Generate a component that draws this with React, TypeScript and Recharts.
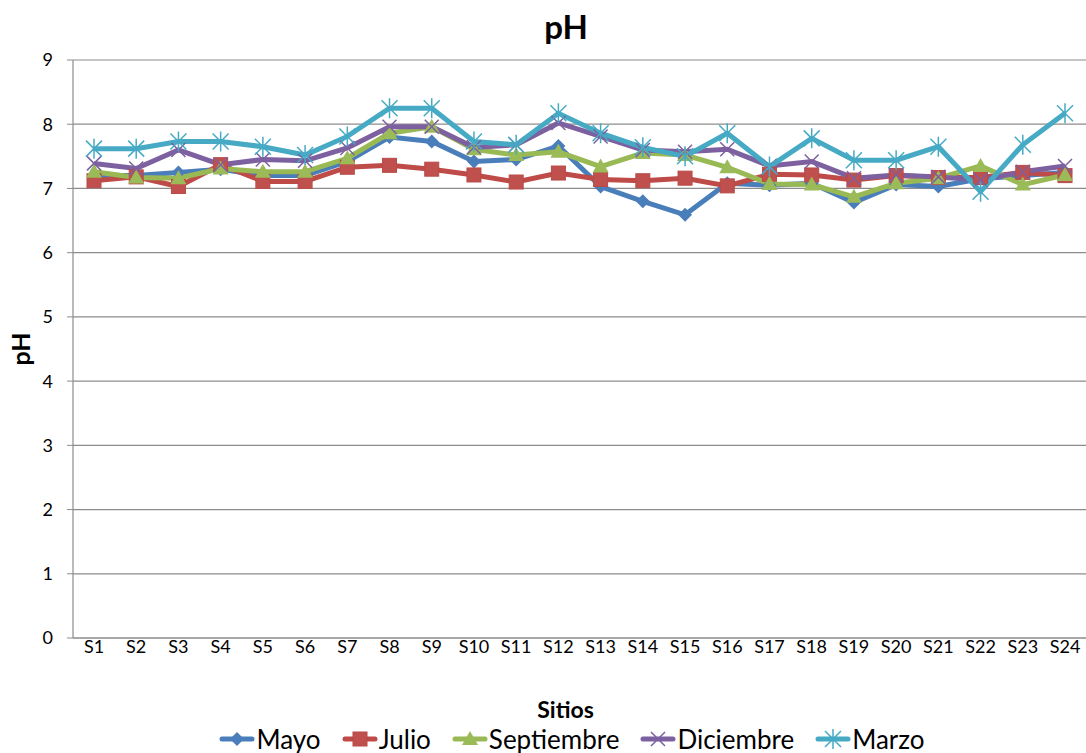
import React from "react";
import { CartesianGrid, Label, Line, LineChart, XAxis, YAxis } from "recharts";

const sitios = [
  "S1", "S2", "S3", "S4", "S5", "S6", "S7", "S8", "S9", "S10", "S11", "S12",
  "S13", "S14", "S15", "S16", "S17", "S18", "S19", "S20", "S21", "S22", "S23", "S24",
];

const mayo = [
  7.2, 7.2, 7.25, 7.3, 7.2, 7.2, 7.42, 7.8, 7.73, 7.42, 7.45, 7.66,
  7.03, 6.8, 6.59, 7.08, 7.05, 7.08, 6.78, 7.06, 7.03, 7.15, 7.2, 7.25,
];
const julio = [
  7.12, 7.18, 7.03, 7.37, 7.11, 7.11, 7.33, 7.36, 7.3, 7.21, 7.1, 7.24,
  7.14, 7.12, 7.16, 7.04, 7.22, 7.21, 7.13, 7.2, 7.17, 7.17, 7.25, 7.2,
];
const septiembre = [
  7.26, 7.17, 7.16, 7.31, 7.26, 7.26, 7.47, 7.86, 7.96, 7.61, 7.52, 7.57,
  7.34, 7.55, 7.52, 7.33, 7.07, 7.06, 6.87, 7.08, 7.16, 7.35, 7.06, 7.21,
];
const diciembre = [
  7.39, 7.31, 7.6, 7.37, 7.45, 7.43, 7.63, 7.96, 7.96, 7.64, 7.68, 8.02,
  7.81, 7.6, 7.57, 7.61, 7.35, 7.42, 7.16, 7.21, 7.18, 7.13, 7.26, 7.35,
];
const marzo = [
  7.62, 7.62, 7.73, 7.73, 7.65, 7.52, 7.81, 8.25, 8.25, 7.73, 7.68, 8.17,
  7.86, 7.64, 7.5, 7.86, 7.34, 7.78, 7.44, 7.44, 7.65, 6.95, 7.68, 8.17,
];

const yTicks = [0, 1, 2, 3, 4, 5, 6, 7, 8, 9];

const data = sitios.map((s, i) => ({
  sitio: s,
  Mayo: mayo[i],
  Julio: julio[i],
  Septiembre: septiembre[i],
  Diciembre: diciembre[i],
  Marzo: marzo[i],
}));

const FONT = "Lato, 'Open Sans', sans-serif";

type Shape = "diamond" | "square" | "triangle" | "x" | "star";

const series: { key: string; color: string; shape: Shape }[] = [
  { key: "Mayo", color: "#4A7EBB", shape: "diamond" },
  { key: "Julio", color: "#BE4B48", shape: "square" },
  { key: "Septiembre", color: "#98B954", shape: "triangle" },
  { key: "Diciembre", color: "#7D60A0", shape: "x" },
  { key: "Marzo", color: "#46AAC5", shape: "star" },
];

const Marker = ({ shape, color, cx, cy }: { shape: Shape; color: string; cx: number; cy: number }) => {
  switch (shape) {
    case "diamond":
      return <path d={`M${cx},${cy - 7} L${cx + 7},${cy} L${cx},${cy + 7} L${cx - 7},${cy} Z`} fill={color} />;
    case "square":
      return <rect x={cx - 7} y={cy - 7} width={14} height={14} fill="#C0504D" stroke="#B84A47" />;
    case "triangle":
      return <path d={`M${cx},${cy - 8} L${cx + 8},${cy + 6} L${cx - 8},${cy + 6} Z`} fill="#9BBB59" />;
    case "x":
      return (
        <path
          d={`M${cx - 7},${cy - 7} L${cx + 7},${cy + 7} M${cx + 7},${cy - 7} L${cx - 7},${cy + 7}`}
          stroke={color}
          strokeWidth={1.5}
        />
      );
    case "star":
      return (
        <path
          d={`M${cx - 8},${cy - 8} L${cx + 8},${cy + 8} M${cx + 8},${cy - 8} L${cx - 8},${cy + 8} M${cx},${cy - 10} L${cx},${cy + 10}`}
          stroke={color}
          strokeWidth={1.5}
        />
      );
  }
};

const makeDot = (shape: Shape, color: string) => (props: any) => (
  <g key={`${shape}-${props.index}`}>
    <Marker shape={shape} color={color} cx={props.cx} cy={props.cy} />
  </g>
);

const LegendItem = ({ label, color, shape }: { label: string; color: string; shape: Shape }) => (
  <span style={{ display: "inline-flex", alignItems: "center" }}>
    <svg width={36} height={20} style={{ marginRight: 1 }}>
      <line x1={3} y1={10} x2={33} y2={10} stroke={color} strokeWidth={5} strokeLinecap="round" />
      <Marker shape={shape} color={color} cx={18} cy={10} />
    </svg>
    <span>{label}</span>
  </span>
);

// axis titles drawn by hand so the font settings stick
const XTitle = (props: any) => {
  const { x, y, width } = props.viewBox;
  return (
    <text
      x={x + width / 2 - 14}
      y={y + 80}
      textAnchor="middle"
      style={{ fontFamily: FONT, fontSize: 23, fontWeight: 700, fill: "#000" }}
    >
      Sitios
    </text>
  );
};

const YTitle = (props: any) => {
  const { y, height } = props.viewBox;
  const cx = 30;
  const cy = y + height / 2;
  return (
    <text
      x={cx}
      y={cy}
      textAnchor="middle"
      transform={`rotate(-90, ${cx}, ${cy})`}
      style={{ fontFamily: FONT, fontSize: 25, fontWeight: 700, fill: "#000" }}
    >
      pH
    </text>
  );
};

export default function App() {
  return (
    <div style={{ position: "absolute", left: 0, top: 0, width: 1086, height: 753, background: "#fff" }}>
      <div
        style={{
          position: "absolute",
          top: 6,
          left: 0,
          width: 1132,
          textAlign: "center",
          fontFamily: FONT,
          fontWeight: 700,
          fontSize: 33,
          color: "#000",
          lineHeight: "40px",
        }}
      >
        pH
      </div>
      <LineChart width={1086} height={753} data={data} margin={{ top: 60, right: 0, left: 0, bottom: 0 }}>
        <CartesianGrid vertical={false} stroke="#8C8C8C" strokeWidth={1.2} />
        <XAxis
          dataKey="sitio"
          height={115}
          padding={{ left: 21, right: 21 }}
          tickLine={false}
          tickSize={0}
          tickMargin={2}
          axisLine={{ stroke: "#8C8C8C", strokeWidth: 1.2 }}
          tick={{ fill: "#000", fontSize: 18, fontFamily: FONT }}
          interval={0}
        >
          <Label content={XTitle} />
        </XAxis>
        <YAxis
          width={73}
          domain={[0, 9]}
          ticks={yTicks}
          interval={0}
          tickSize={6}
          tickMargin={14}
          axisLine={{ stroke: "#8C8C8C", strokeWidth: 1.2 }}
          tickLine={{ stroke: "#8C8C8C" }}
          tick={{ fill: "#000", fontSize: 18, fontFamily: FONT }}
        >
          <Label content={YTitle} />
        </YAxis>
        {series.map((s) => (
          <Line
            key={s.key}
            type="linear"
            dataKey={s.key}
            stroke={s.color}
            strokeWidth={5}
            dot={makeDot(s.shape, s.color)}
            activeDot={false}
            isAnimationActive={false}
          />
        ))}
      </LineChart>
      <div
        style={{
          position: "absolute",
          top: 725,
          left: 0,
          width: 1144,
          display: "flex",
          justifyContent: "center",
          gap: 21,
          fontFamily: FONT,
          fontSize: 26,
          color: "#000",
          lineHeight: "28px",
        }}
      >
        {series.map((s) => (
          <LegendItem key={s.key} label={s.key} color={s.color} shape={s.shape} />
        ))}
      </div>
    </div>
  );
}
